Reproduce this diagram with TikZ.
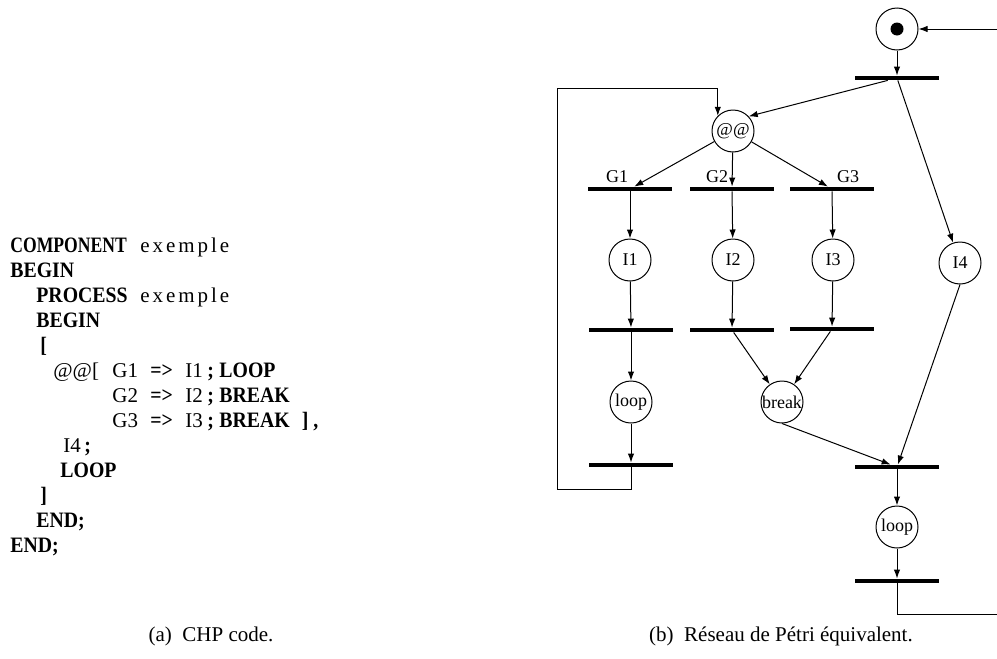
\documentclass[tikz,border=0pt]{standalone}
\usepackage{fontspec}
\setmainfont{Liberation Serif}
\newfontfamily\kwfont[FakeStretch=0.9]{Liberation Serif}
\newfontfamily\kwcfont[FakeStretch=0.8]{Liberation Serif}
\newfontfamily\spfont[LetterSpace=14]{Liberation Serif}
\usetikzlibrary{arrows.meta}

\newcommand{\kw}[1]{{\fontsize{11}{12}\kwfont\bfseries #1}}
\newcommand{\kwc}[1]{{\fontsize{11}{12}\kwcfont\bfseries #1}}
\newcommand{\gline}[3]{\makebox[19pt][l]{#1}\makebox[17.5pt][l]{\kw{=>}}\makebox[11pt][l]{#2}\makebox[6pt][l]{\kw{;}}\kw{#3}}

\begin{document}
\begin{tikzpicture}[x=0.5pt, y=-0.5pt, >={Latex[length=4.5pt,width=3.2pt]},
  place/.style={draw, circle, minimum size=21pt, inner sep=0pt, line width=0.5pt, font=\fontsize{9}{10}\selectfont},
  token/.style={fill=black, circle, minimum size=6.5pt, inner sep=0pt},
  trans/.style={fill=black, minimum width=42pt, minimum height=2pt, inner sep=0pt},
  lbl/.style={inner sep=0pt, font=\fontsize{9}{10}\selectfont},
  codeline/.style={anchor=base west, inner sep=0pt, font=\fontsize{10.5}{12}\selectfont},
  caption/.style={inner sep=0pt, font=\fontsize{10.5}{12}\selectfont},
  arc/.style={->, line width=0.5pt}]
  \useasboundingbox (0,0) rectangle (997,659);

  % CHP code
  \node[codeline] (c1) at (10,252) {\makebox[65pt][l]{\kwc{COMPONENT}}{\spfont exemple}};
  \node[codeline] (c2) at (10,277) {\kw{BEGIN}};
  \node[codeline] (c3) at (36,302) {\makebox[52pt][l]{\kw{PROCESS}}{\spfont exemple}};
  \node[codeline] (c4) at (36,327) {\kw{BEGIN}};
  \node[codeline] (c5) at (40,352) {\kw{[}};
  \node[codeline] (c6) at (53,377) {\makebox[29.5pt][l]{@@[}\gline{G1}{I1}{LOOP}};
  \node[codeline] (c7) at (112,402) {\gline{G2}{I2}{BREAK}};
  \node[codeline] (c8) at (112,427) {\gline{G3}{I3}{BREAK}\hspace{6pt}\kw{]}\hspace{2.5pt}\kw{,}};
  \node[codeline] (c9) at (63,452) {I4\,\kw{;}};
  \node[codeline] (c10) at (60,477) {\kw{LOOP}};
  \node[codeline] (c11) at (40,502) {\kw{]}};
  \node[codeline] (c12) at (36,527) {\kw{END;}};
  \node[codeline] (c13) at (10,552) {\kw{END;}};

  % Places
  \node[place] (start) at (897,29) {};
  \node[token] (tok) at (start) {};
  \node[place] (par) at (733,131) {@@};
  \node[place] (i1) at (630,260) {I1};
  \node[place] (i2) at (733,260) {I2};
  \node[place] (i3) at (833,260) {I3};
  \node[place] (i4) at (960,263) {I4};
  \node[place] (lp1) at (631,402) {loop};
  \node[place] (brk) at (782,402) {break};
  \node[place] (lp2) at (897,527) {loop};

  % Transitions
  \node[trans] (t0) at (897,78) {};
  \node[trans] (tg1) at (630,189) {};
  \node[trans] (tg2) at (732,189) {};
  \node[trans] (tg3) at (832,189) {};
  \node[trans] (tb1) at (631,330) {};
  \node[trans] (tb2) at (732,330) {};
  \node[trans] (tb3) at (832,329) {};
  \node[trans] (tl) at (631,465) {};
  \node[trans] (tj) at (897,467) {};
  \node[trans] (tf) at (897,581) {};

  % Guards
  \node[lbl] (g1) at (617,177) {G1};
  \node[lbl] (g2) at (717,177) {G2};
  \node[lbl] (g3) at (848,177) {G3};

  % Return points
  \coordinate (backl) at (557,489);
  \coordinate (backtl) at (557,88);
  \coordinate (backr) at (997,614);
  \coordinate (backtr) at (997,29);

  % Arcs
  \draw[arc] (start) -- (t0);
  \draw[arc] (t0) -- (par.43);
  \draw[arc] (t0) -- (i4);
  \draw[arc] (par) -- (tg1);
  \draw[arc] (par) -- (tg2);
  \draw[arc] (par) -- (tg3);
  \draw[arc] (tg1) -- (i1);
  \draw[arc] (tg2) -- (i2);
  \draw[arc] (tg3) -- (i3);
  \draw[arc] (i1) -- (tb1);
  \draw[arc] (i2) -- (tb2);
  \draw[arc] (i3) -- (tb3);
  \draw[arc] (tb1) -- (lp1);
  \draw[arc] (tb2) -- (brk);
  \draw[arc] (tb3) -- (brk);
  \draw[arc] (lp1) -- (tl);
  \draw[arc] (brk.south) -- (tj);
  \draw[arc] (i4.south) -- (tj);
  \draw[arc] (tj) -- (lp2);
  \draw[arc] (lp2) -- (tf);
  \draw[arc] (tl.center) |- (backl) -- (backtl) -| (par.135);
  \draw[arc] (tf.center) |- (backr) -- (backtr) -- (start);

  % Captions
  \node[caption] (capa) at (211,636) {(a)\enspace CHP code.};
  \node[caption] (capb) at (781,636) {(b)\enspace Réseau de Pétri équivalent.};
\end{tikzpicture}
\end{document}
